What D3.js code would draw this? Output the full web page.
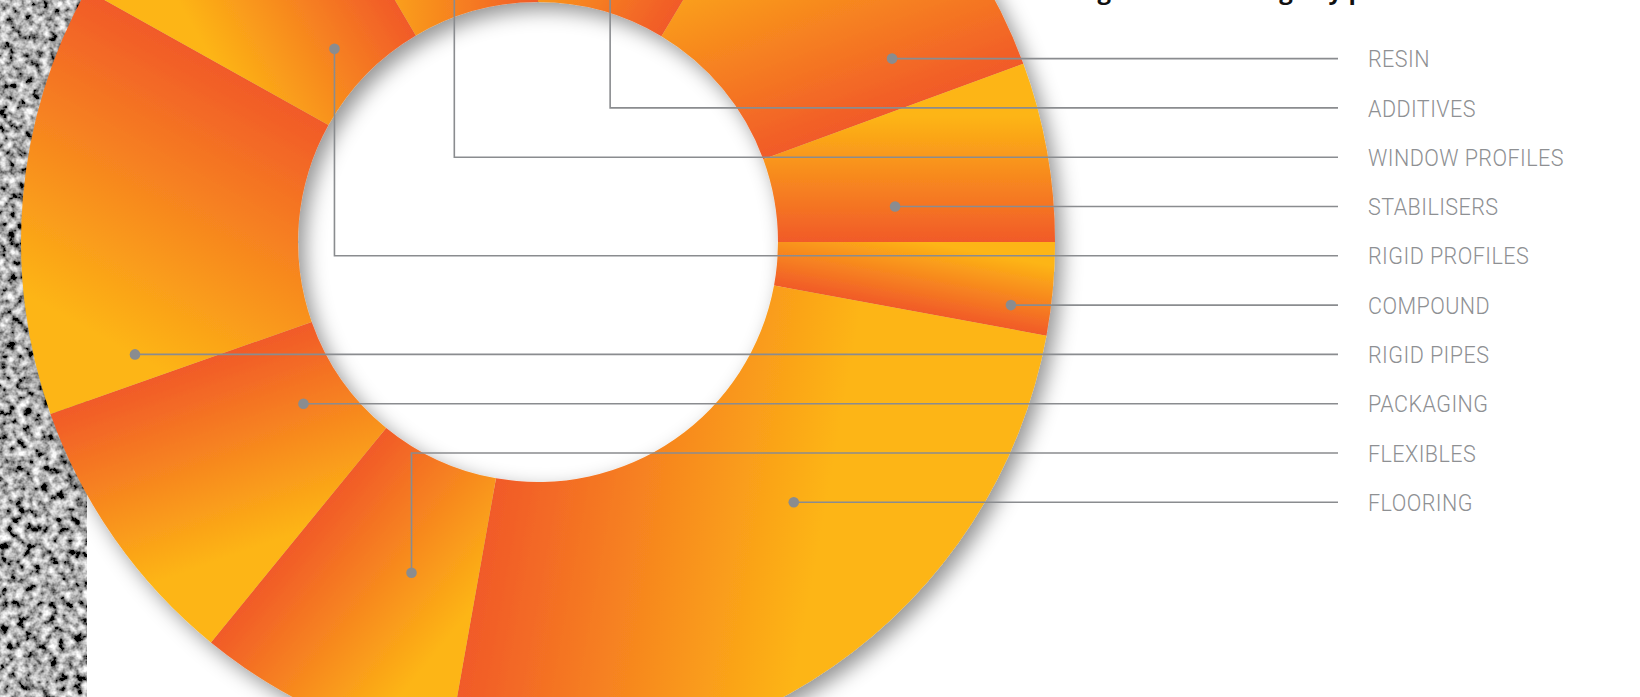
<!DOCTYPE html>
<html><head><meta charset="utf-8">
<script src="https://cdn.jsdelivr.net/npm/d3@7"></script>
<style>html,body{margin:0;padding:0;background:#fff;overflow:hidden}</style>
</head><body><svg id="chart" width="1640" height="697"></svg>
<script>
// ---------- data ----------
const categories = ["ADDITIVES","RESIN","STABILISERS","COMPOUND","FLOORING","FLEXIBLES","PACKAGING","RIGID PIPES","RIGID PROFILES","WINDOW PROFILES"];
const shares = [8.6,10.8,5.6,2.9,24.9,8.1,8.7,13.5,8.4,8.5];
const labelOrder = ["RESIN","ADDITIVES","WINDOW PROFILES","STABILISERS","RIGID PROFILES","COMPOUND","RIGID PIPES","PACKAGING","FLEXIBLES","FLOORING"];
const titleText = "Figure 2: PVC usage by product";

// ---------- layout ----------
const W = 1640, H = 697, cx = 538, cy = 242, rIn = 240, rOut = 517;
const lineEndX = 1338, labelX = 1368, labelTargetWidth = 196;
const RED = "#F15A29", YELLOW = "#FDB515", GREY = "#8a8c8f";
// callout anchor placement inside each slice (h = horizontal leader, v = elbow leader)
const calloutLayout = {
  "RESIN":          {type:"h", ru:0.573},
  "STABILISERS":    {type:"h", ru:0.429},
  "COMPOUND":       {type:"h", ru:0.856},
  "RIGID PIPES":    {type:"h", ru:0.644},
  "PACKAGING":      {type:"h", ru:0.162},
  "FLOORING":       {type:"h", ru:0.451},
  "ADDITIVES":      {type:"v", au:0.335, ru:0.58},
  "WINDOW PROFILES":{type:"v", au:0.606, ru:0.58},
  "RIGID PROFILES": {type:"v", au:0.475, ru:0.147},
  "FLEXIBLES":      {type:"v", au:0.372, ru:0.412}
};

const svg = d3.select("#chart");
const defs = svg.append("defs");

// grain texture
const grain = defs.append("filter").attr("id","grain")
  .attr("x",0).attr("y",0).attr("width",1).attr("height",1);
grain.append("feTurbulence").attr("type","fractalNoise").attr("baseFrequency","0.12")
  .attr("numOctaves",3).attr("seed",7).attr("result","n");
grain.append("feColorMatrix").attr("type","matrix")
  .attr("values","2.0 0 0 0 -0.58  2.0 0 0 0 -0.58  2.0 0 0 0 -0.58  0 0 0 0 1");

const shadow = defs.append("filter").attr("id","shadow")
  .attr("x","-20%").attr("y","-20%").attr("width","140%").attr("height","140%");
shadow.append("feDropShadow").attr("dx",7).attr("dy",8).attr("stdDeviation",10)
  .attr("flood-color","#000").attr("flood-opacity",0.42);

svg.append("rect").attr("x",0).attr("y",0).attr("width",87).attr("height",H)
  .attr("fill","#888").attr("filter","url(#grain)");

const data = categories.map((c,i)=>({name:c, value:shares[i]}));
const pie = d3.pie().value(d=>d.value).sort(null).startAngle(0).endAngle(2*Math.PI);
const arcs = pie(data);
const arc = d3.arc().innerRadius(rIn).outerRadius(rOut);
const rScale = d3.scaleLinear().domain([0,1]).range([rIn,rOut]);
const polar = (a,r)=>[r*Math.sin(a), -r*Math.cos(a)];

const g = svg.append("g").attr("transform",`translate(${cx},${cy})`);

// gradient: red at the slice's closing edge, fading to yellow across the slice
arcs.forEach((d,i)=>{
  const span = d.endAngle - d.startAngle;
  const rMid = rScale(0.5);
  const A = polar(d.endAngle, rMid);
  const chord = 2*rMid*Math.sin(span/2);
  const L = Math.min(330, Math.max(70, 0.95*chord));
  const t = [-Math.cos(d.endAngle), -Math.sin(d.endAngle)];
  const B = [A[0] + L*t[0], A[1] + L*t[1]];
  const lg = defs.append("linearGradient").attr("id","grad"+i)
    .attr("gradientUnits","userSpaceOnUse")
    .attr("x1",A[0]).attr("y1",A[1]).attr("x2",B[0]).attr("y2",B[1]);
  lg.append("stop").attr("offset",0).attr("stop-color",RED);
  lg.append("stop").attr("offset",1).attr("stop-color",YELLOW);
});

const ring = g.append("g").attr("filter","url(#shadow)");
ring.selectAll("path").data(arcs).join("path")
  .attr("d",arc).attr("fill",(d,i)=>`url(#grad${i})`);

// label rows
const yRow = d3.scalePoint().domain(labelOrder).range([58.6, 502.3]);

const leaders = svg.append("g").attr("fill","none").attr("stroke",GREY).attr("stroke-width",1.6);
const dots = svg.append("g").attr("fill",GREY);

arcs.forEach(d=>{
  const name = d.data.name, L = calloutLayout[name];
  const ry = yRow(name);
  let dx, dy, pts;
  if (L.type === "h") {
    const r = rScale(L.ru);
    const mid = (d.startAngle + d.endAngle)/2;
    const side = Math.sin(mid) >= 0 ? 1 : -1;
    const yy = ry - cy;
    dx = cx + side*Math.sqrt(r*r - yy*yy); dy = ry;
    pts = [[dx,dy],[lineEndX,ry]];
  } else {
    const a = d.startAngle + L.au*(d.endAngle - d.startAngle);
    const p = polar(a, rScale(L.ru));
    dx = cx + p[0]; dy = cy + p[1];
    pts = [[dx,dy],[dx,ry],[lineEndX,ry]];
  }
  leaders.append("path").attr("d", d3.line()(pts));
  dots.append("circle").attr("cx",dx).attr("cy",dy).attr("r",5.3);
});

const labels = svg.append("g").selectAll("text").data(labelOrder).join("text")
  .attr("x",0).attr("y",0)
  .attr("font-family","Roboto, 'DejaVu Sans Condensed', sans-serif")
  .attr("font-weight",300)
  .attr("font-size",24).attr("letter-spacing",0.5).attr("fill","#8e9093")
  .text(d=>d);
// condense the labels horizontally to the reference's narrow face
let wRef = 0;
labels.each(function(d){ if (d === "WINDOW PROFILES") wRef = this.getComputedTextLength(); });
const k = wRef > 0 ? labelTargetWidth / wRef : 1;
labels.attr("transform", d=>`translate(${labelX},${yRow(d)+8.6}) scale(${k},1)`);

svg.append("text").attr("x",1077).attr("y",-1)
  .attr("font-family","'Open Sans',sans-serif").attr("font-weight",700)
  .attr("font-size",24).attr("fill","#111").text(titleText);
</script></body></html>
